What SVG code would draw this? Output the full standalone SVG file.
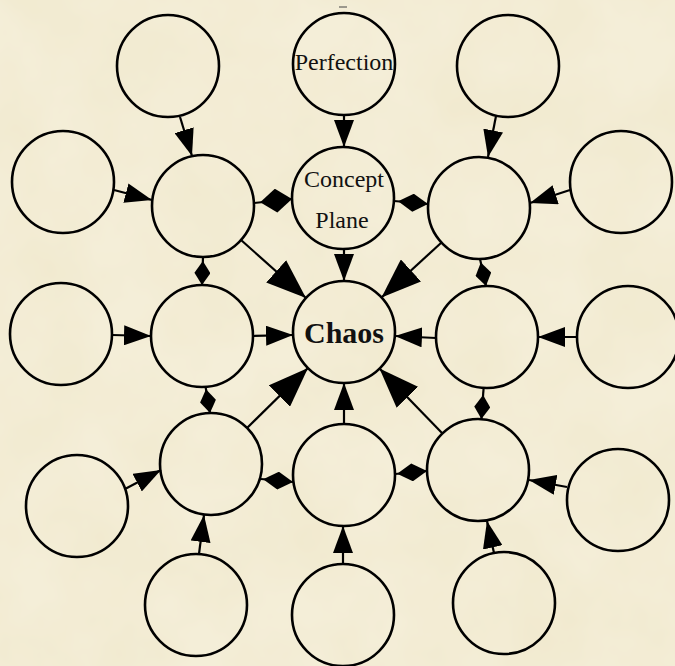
<svg xmlns="http://www.w3.org/2000/svg" width="675" height="666" viewBox="0 0 675 666">
<style>
.n{fill:none;stroke:#000;stroke-width:2.6}
.c{stroke:#000;stroke-width:2.2;fill:none}
.a{marker-end:url(#arr)}
.b{marker-end:url(#arrBig)}
.d{marker-end:url(#dia)}
.D{marker-end:url(#diaBig)}
.s{marker-end:url(#diaSm)}
.t{font-family:"Liberation Serif","Times New Roman",serif;font-size:24px;fill:#111;text-anchor:middle}
.tb{font-family:"Liberation Serif","Times New Roman",serif;font-size:30px;font-weight:bold;fill:#111;text-anchor:middle}
</style>
<defs>
<filter id="paper" x="0" y="0" width="100%" height="100%">
<feTurbulence type="fractalNoise" baseFrequency="0.012" numOctaves="4" seed="7"/>
<feColorMatrix values="0 0 0 0 0.84  0 0 0 0 0.76  0 0 0 0 0.52  0 0 0 0.55 -0.14"/>
</filter>
<marker id="arr" viewBox="0 0 27 20" refX="27" refY="10" markerWidth="27" markerHeight="20" markerUnits="userSpaceOnUse" orient="auto"><path d="M0,0 L27,10 L0,20 z" fill="#000"/></marker>
<marker id="arrBig" viewBox="0 0 40 30" refX="40" refY="15" markerWidth="40" markerHeight="30" markerUnits="userSpaceOnUse" orient="auto"><path d="M0,0 L40,15 L0,30 z" fill="#000"/></marker>
<marker id="dia" viewBox="0 0 30 18" refX="30" refY="9" markerWidth="30" markerHeight="18" markerUnits="userSpaceOnUse" orient="auto"><path d="M0,9 L15,0 L30,9 L15,18 z" fill="#000"/></marker>
<marker id="diaBig" viewBox="0 0 32 24" refX="32" refY="12" markerWidth="32" markerHeight="24" markerUnits="userSpaceOnUse" orient="auto"><path d="M0,12 L16,0 L32,12 L16,24 z" fill="#000"/></marker>
<marker id="diaSm" viewBox="0 0 24 16" refX="24" refY="8" markerWidth="24" markerHeight="16" markerUnits="userSpaceOnUse" orient="auto"><path d="M0,8 L12,0 L24,8 L12,16 z" fill="#000"/></marker>
</defs>
<rect width="675" height="666" fill="#f4eed8"/>
<rect width="675" height="666" filter="url(#paper)"/>
<line x1="339" y1="7" x2="347" y2="7" stroke="#444" stroke-width="1"/>
<g id="connectors">
<line class="c a" x1="180" y1="117" x2="192" y2="156"/>
<line class="c a" x1="344" y1="115" x2="344" y2="147"/>
<line class="c a" x1="496" y1="116" x2="488" y2="157"/>
<line class="c a" x1="114" y1="190" x2="152" y2="200"/>
<line class="c a" x1="570" y1="190" x2="530" y2="203"/>
<line class="c D" x1="254" y1="203" x2="292" y2="199"/>
<line class="c d" x1="394" y1="201" x2="428" y2="204"/>
<line class="c b" x1="241" y1="240" x2="306" y2="298"/>
<line class="c a" x1="344" y1="249" x2="344" y2="281"/>
<line class="c b" x1="441.5" y1="242.5" x2="381.5" y2="297.5"/>
<line class="c s" x1="203" y1="257" x2="202" y2="285"/>
<line class="c s" x1="480" y1="259" x2="486" y2="286"/>
<line class="c a" x1="112" y1="335" x2="151" y2="336"/>
<line class="c a" x1="253" y1="336" x2="293" y2="335"/>
<line class="c a" x1="436" y1="338" x2="395" y2="336"/>
<line class="c a" x1="577" y1="337" x2="538" y2="337"/>
<line class="c s" x1="205.6" y1="387" x2="210" y2="413"/>
<line class="c s" x1="483.6" y1="388" x2="481.4" y2="419"/>
<line class="c b" x1="247" y1="428" x2="308" y2="368"/>
<line class="c a" x1="344" y1="424" x2="344" y2="383"/>
<line class="c b" x1="442.5" y1="433.4" x2="379.5" y2="368.6"/>
<line class="c d" x1="261" y1="479" x2="293" y2="482"/>
<line class="c d" x1="395" y1="474" x2="427" y2="471"/>
<line class="c a" x1="125" y1="489" x2="161" y2="470"/>
<line class="c a" x1="567" y1="487" x2="529" y2="480"/>
<line class="c a" x1="199" y1="554" x2="204" y2="515"/>
<line class="c a" x1="343" y1="564" x2="343" y2="526"/>
<line class="c a" x1="494" y1="553" x2="487" y2="521"/>
</g>
<g id="n-tl"><circle class="n" cx="168" cy="66" r="51"/></g>
<g id="n-perfection"><circle class="n" cx="344" cy="64" r="51"/><text class="t" x="344" y="70">Perfection</text></g>
<g id="n-tr"><circle class="n" cx="508" cy="66" r="51"/></g>
<g id="n-fl2"><circle class="n" cx="63" cy="182" r="51"/></g>
<g id="n-l2"><circle class="n" cx="203" cy="206" r="51"/></g>
<g id="n-concept"><circle class="n" cx="343" cy="198" r="51"/><text class="t" x="344" y="187">Concept</text><text class="t" x="342" y="228">Plane</text></g>
<g id="n-r2"><circle class="n" cx="479" cy="208" r="51"/></g>
<g id="n-fr2"><circle class="n" cx="621" cy="182" r="51"/></g>
<g id="n-fl3"><circle class="n" cx="61" cy="334" r="51"/></g>
<g id="n-l3"><circle class="n" cx="202" cy="336" r="51"/></g>
<g id="n-chaos"><circle class="n" cx="344" cy="332" r="51"/><text class="tb" x="344" y="343">Chaos</text></g>
<g id="n-r3"><circle class="n" cx="487" cy="337" r="51"/></g>
<g id="n-fr3"><circle class="n" cx="628" cy="337" r="51"/></g>
<g id="n-fl4"><circle class="n" cx="77" cy="506" r="51"/></g>
<g id="n-l4"><circle class="n" cx="211" cy="464" r="51"/></g>
<g id="n-bcn"><circle class="n" cx="344" cy="475" r="51"/></g>
<g id="n-r4"><circle class="n" cx="478" cy="470" r="51"/></g>
<g id="n-fr4"><circle class="n" cx="618" cy="500" r="51"/></g>
<g id="n-bl"><circle class="n" cx="196" cy="605" r="51"/></g>
<g id="n-bc"><circle class="n" cx="343" cy="615" r="51"/></g>
<g id="n-br"><circle class="n" cx="504" cy="603" r="51"/></g>
</svg>
